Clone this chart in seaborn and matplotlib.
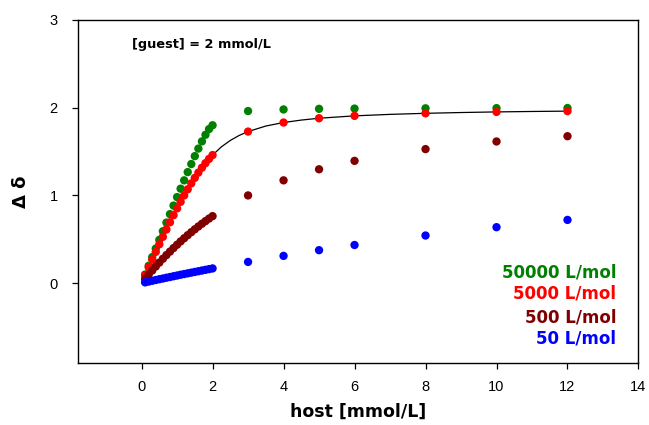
import matplotlib
matplotlib.use("Agg")
import matplotlib.pyplot as plt
import seaborn as sns
import pandas as pd

# host concentration [mmol/L]
host = [0.1, 0.2, 0.3, 0.4, 0.5, 0.6, 0.7, 0.8, 0.9, 1.0,
        1.1, 1.2, 1.3, 1.4, 1.5, 1.6, 1.7, 1.8, 1.9, 2.0,
        3, 4, 5, 6, 8, 10, 12]

# delta delta for each binding constant
k50000 = [0.099, 0.198, 0.297, 0.395, 0.494, 0.592, 0.690, 0.787, 0.884, 0.981,
          1.077, 1.172, 1.266, 1.358, 1.448, 1.534, 1.616, 1.691, 1.756, 1.800,
          1.962, 1.980, 1.987, 1.990, 1.993, 1.995, 1.996]
k5000 = [0.091, 0.180, 0.269, 0.357, 0.443, 0.528, 0.612, 0.694, 0.774, 0.852,
         0.927, 1.000, 1.070, 1.137, 1.200, 1.260, 1.316, 1.368, 1.416, 1.460,
         1.728, 1.831, 1.880, 1.907, 1.936, 1.952, 1.961]
k500 = [0.049, 0.098, 0.144, 0.190, 0.234, 0.278, 0.320, 0.360, 0.400, 0.438,
        0.476, 0.512, 0.547, 0.581, 0.614, 0.646, 0.677, 0.707, 0.736, 0.764,
        1.000, 1.172, 1.298, 1.394, 1.528, 1.615, 1.675]
k50 = [0.009, 0.018, 0.027, 0.036, 0.045, 0.053, 0.062, 0.070, 0.079, 0.087,
       0.096, 0.104, 0.112, 0.120, 0.128, 0.136, 0.144, 0.152, 0.160, 0.168,
       0.242, 0.311, 0.376, 0.435, 0.543, 0.638, 0.721]

# fitted curve (through the 5000 L/mol data)
fit_x = [0, 0.5, 1.0, 1.5, 2.0, 2.25, 2.5, 2.75, 3, 3.5, 4, 4.5, 5, 6, 7, 8, 9, 10, 11, 12]
fit_y = [0, 0.443, 0.852, 1.200, 1.460, 1.554, 1.627, 1.684, 1.728, 1.791, 1.831,
         1.859, 1.880, 1.907, 1.924, 1.936, 1.945, 1.952, 1.957, 1.961]

labels = ["50000 L/mol", "5000 L/mol", "500 L/mol", "50 L/mol"]
colors = ["#008000", "#ff0000", "#800000", "#0000ff"]
series = [k50000, k5000, k500, k50]

df = pd.concat([pd.DataFrame({"host": host, "dd": s, "K": lab})
                for s, lab in zip(series, labels)], ignore_index=True)
fit = pd.DataFrame({"host": fit_x, "dd": fit_y})

sns.set_style("ticks")
plt.rcParams["font.family"] = ["Liberation Sans", "DejaVu Sans"]
plt.rcParams["text.color"] = "black"

fig = plt.figure(figsize=(6.49, 4.25), dpi=100)
ax = fig.add_axes([0.1197, 0.1459, 0.8641, 0.8071])

sns.lineplot(data=fit, x="host", y="dd", color="black", linewidth=0.9, ax=ax, zorder=1)
sns.scatterplot(data=df, x="host", y="dd", hue="K", palette=dict(zip(labels, colors)),
                s=36, linewidth=0, legend=False, ax=ax, zorder=2)

ax.set_xlim(-1.8, 14)
ax.set_ylim(-0.91, 3)
ax.set_xticks(range(0, 15, 2))
ax.set_yticks([0, 1, 2, 3])
for sp in ax.spines.values():
    sp.set_linewidth(1.0)
    sp.set_color("black")
ax.tick_params(axis="both", direction="out", length=4.5, width=0.9, labelsize=10.5,
               colors="black", top=False, right=False)
ax.tick_params(axis="x", pad=8)
ax.tick_params(axis="y", pad=10)

bold = dict(family="DejaVu Sans", fontweight="bold", color="black")
ax.set_xlabel("host [mmol/L]", fontsize=12.5, labelpad=6, **bold)
ax.set_ylabel("Δ δ", fontsize=13, labelpad=14, **bold)

ax.text(-0.27, 2.715, "[guest] = 2 mmol/L", fontsize=9.3, ha="left", va="center",
        family="DejaVu Sans", fontweight="bold")

for lab, col, ty in zip(labels, colors, [0.125, -0.114, -0.388, -0.627]):
    ax.text(13.37, ty, lab, color=col, fontsize=12, ha="right", va="center",
            family="DejaVu Sans", fontweight="bold")

fig.savefig("out.png", dpi=100)
